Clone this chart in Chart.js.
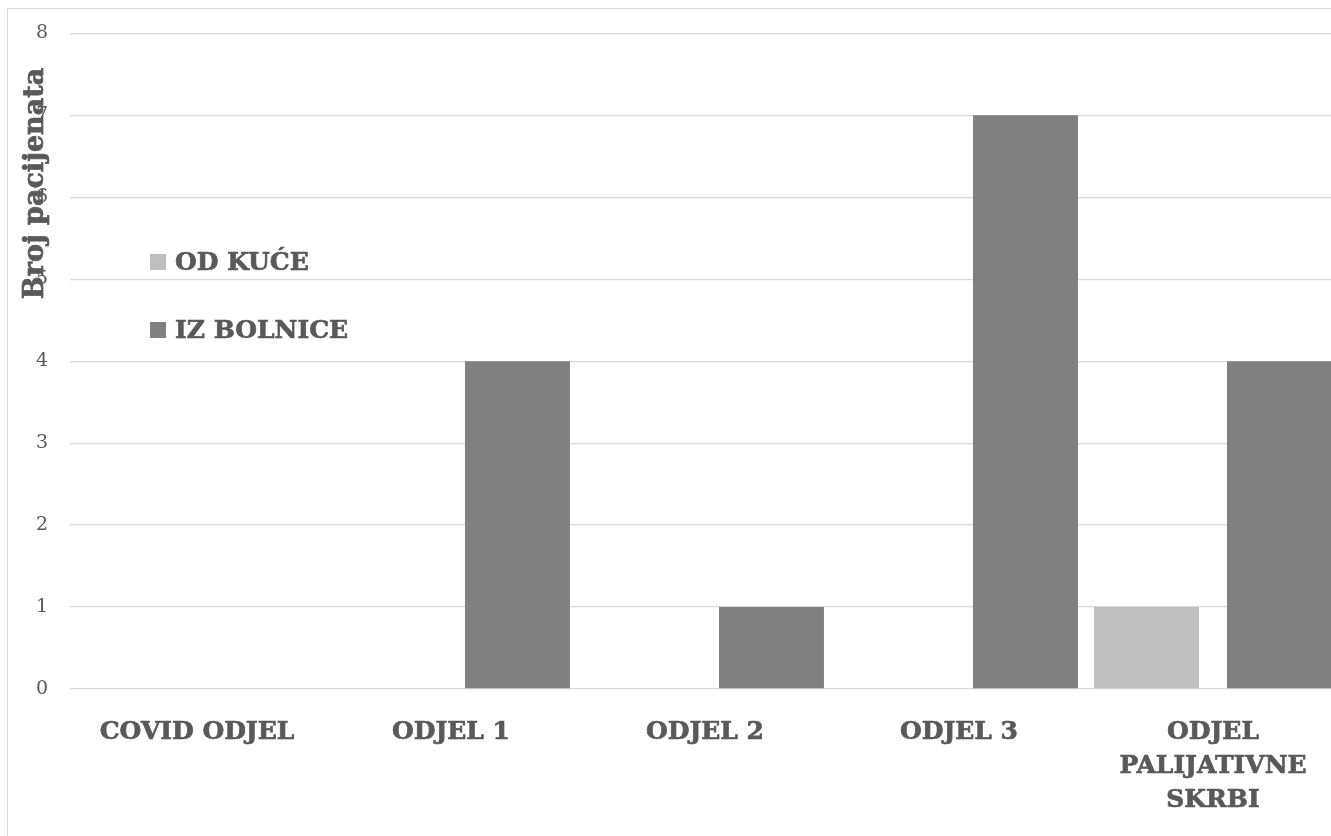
<!DOCTYPE html>
<html>
<head>
<meta charset="utf-8">
<script src="https://cdn.jsdelivr.net/npm/chart.js@4/dist/chart.umd.min.js"></script>
<style>
  html, body { margin: 0; padding: 0; background: #fff; overflow: hidden; }
  #wrap { position: relative; width: 1331px; height: 836px; overflow: hidden; }
  canvas { position: absolute; left: 0; top: 0; }
</style>
</head>
<body>
<div id="wrap"><canvas id="c" width="1345" height="836"></canvas></div>
<script>
// Departments (x categories)
const categories = ['COVID ODJEL', 'ODJEL 1', 'ODJEL 2', 'ODJEL 3', ['ODJEL', 'PALIJATIVNE', 'SKRBI']];
// Patient counts per admission source
const odKuce = [0, 0, 0, 0, 1];
const izBolnice = [0, 4, 1, 7, 4];
// Series names
const seriesNames = ['OD KUĆE', 'IZ BOLNICE'];
// Y axis range
const yMin = 0, yMax = 8, yStep = 1;
const yTitle = 'Broj pacijenata';

const TEXT = '#595959';
const GRID = '#d9d9d9';
const SERIF = "'DejaVu Serif', 'Liberation Serif', serif";
const HEAVY = 0.7; // extra stroke to make bold labels heavier

// Frame, inline legend and rotated axis title
const decorations = {
  id: 'decorations',
  beforeDraw(chart) {
    const ctx = chart.ctx;
    ctx.save();
    ctx.strokeStyle = GRID;
    ctx.lineWidth = 1;
    ctx.strokeRect(7.5, 8.5, 2000, 2000);
    ctx.restore();
  },
  afterDraw(chart) {
    const ctx = chart.ctx;
    ctx.save();
    // legend
    ctx.font = "bold 25px " + SERIF;
    ctx.textBaseline = 'middle';
    ctx.textAlign = 'left';
    ctx.lineWidth = HEAVY;
    ctx.strokeStyle = TEXT;
    const rows = [262, 330];
    chart.data.datasets.forEach((ds, i) => {
      const y = rows[i];
      ctx.fillStyle = ds.backgroundColor;
      ctx.fillRect(150, y - 8, 16, 16);
      ctx.fillStyle = TEXT;
      ctx.fillText(ds.label, 175, y + 1);
      ctx.strokeText(ds.label, 175, y + 1);
    });
    // y axis title
    ctx.translate(43, 183.5);
    ctx.rotate(-Math.PI / 2);
    ctx.textAlign = 'center';
    ctx.textBaseline = 'alphabetic';
    ctx.fillStyle = TEXT;
    ctx.font = "bold 27px " + SERIF;
    ctx.fillText(yTitle, 0, 0);
    ctx.strokeText(yTitle, 0, 0);
    ctx.restore();
  }
};

new Chart(document.getElementById('c'), {
  type: 'bar',
  data: {
    labels: categories,
    datasets: [
      { label: seriesNames[0], data: odKuce, backgroundColor: '#bfbfbf' },
      { label: seriesNames[1], data: izBolnice, backgroundColor: '#808080' }
    ]
  },
  options: {
    responsive: false,
    animation: false,
    devicePixelRatio: 1,
    categoryPercentage: 1.047,
    barPercentage: 0.7895,
    layout: { padding: { left: 0, right: 5, top: 32, bottom: 0 } },
    plugins: {
      legend: { display: false },
      tooltip: { enabled: false },
      title: { display: false }
    },
    scales: {
      x: {
        grid: { display: false },
        border: { display: false },
        ticks: {
          color: TEXT,
          font: { family: SERIF, size: 25, weight: 'bold', lineHeight: 1.36 },
          textStrokeColor: TEXT,
          textStrokeWidth: HEAVY,
          padding: 18,
          maxRotation: 0,
          autoSkip: false
        },
        afterFit(scale) { scale.height = 147; }
      },
      y: {
        min: yMin,
        max: yMax,
        grid: { color: GRID, lineWidth: 1.3, drawTicks: false },
        border: { display: false },
        ticks: {
          stepSize: yStep,
          color: TEXT,
          font: { family: SERIF, size: 19 },
          padding: 22
        },
        afterFit(scale) { scale.width = 70; }
      }
    }
  },
  plugins: [decorations]
});
</script>
</body>
</html>
